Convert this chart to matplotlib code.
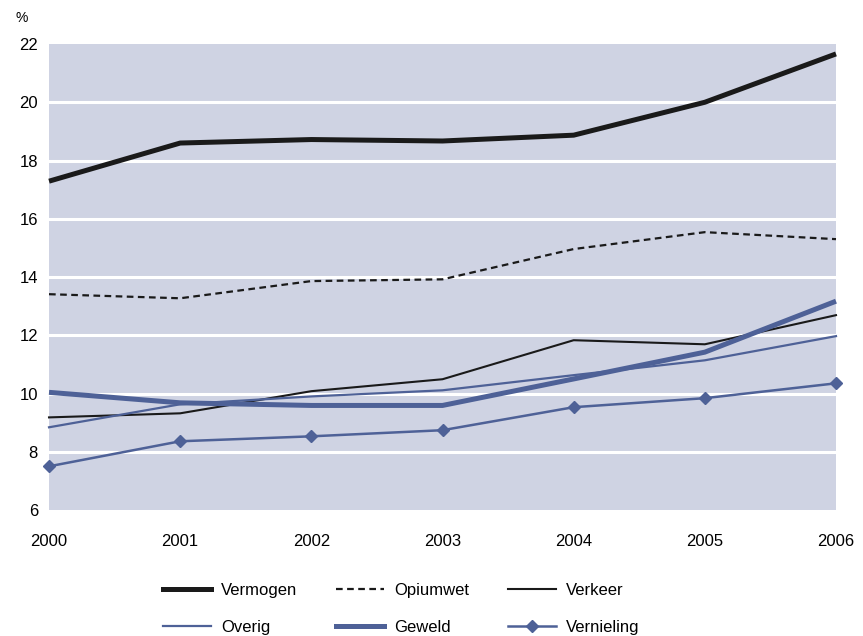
import matplotlib
matplotlib.use("Agg")
import matplotlib.pyplot as plt
from matplotlib.lines import Line2D

years = [2000, 2001, 2002, 2003, 2004, 2005, 2006]
vermogen = [17.29, 18.6, 18.72, 18.67, 18.87, 20.0, 21.66]
opiumwet = [13.41, 13.27, 13.86, 13.92, 14.96, 15.54, 15.30]
verkeer = [9.18, 9.32, 10.08, 10.49, 11.83, 11.69, 12.69]
overig = [8.84, 9.63, 9.90, 10.11, 10.63, 11.14, 11.97]
geweld = [10.04, 9.68, 9.59, 9.59, 10.50, 11.42, 13.17]
vernieling = [7.50, 8.36, 8.53, 8.74, 9.53, 9.84, 10.35]
yticks = [6, 8, 10, 12, 14, 16, 18, 20, 22]

plt.rcParams['font.family'] = ['Liberation Sans', 'DejaVu Sans']
blue = '#4E6197'
black = '#1a1a1a'

fig = plt.figure(figsize=(8.63, 6.36), dpi=100)
ax = fig.add_axes([0.0568, 0.1981, 0.9119, 0.7327])
ax.set_facecolor('#CFD3E3')
for s in ax.spines.values():
    s.set_visible(False)
ax.set_xlim(2000, 2006)
ax.set_ylim(6, 22)
for y in yticks[1:-1]:
    ax.axhline(y, color='white', lw=2.2, zorder=1)

ax.plot(years, vermogen, color=black, lw=3.6, zorder=3, solid_capstyle='butt', clip_on=False)
ax.plot(years, opiumwet, color=black, lw=1.6, ls=(0, (3, 2)), zorder=3, clip_on=False)
ax.plot(years, verkeer, color=black, lw=1.5, zorder=3, clip_on=False)
ax.plot(years, overig, color=blue, lw=1.6, zorder=3, clip_on=False)
ax.plot(years, geweld, color=blue, lw=3.6, zorder=3, solid_capstyle='butt', clip_on=False)
ax.plot(years, vernieling, color=blue, lw=1.8, marker='D', markersize=6.5, zorder=4, clip_on=False)

ax.set_xticks(years)
ax.set_xticklabels([str(y) for y in years], fontsize=12)
ax.set_yticks(yticks)
ax.set_yticklabels([str(y) for y in yticks], fontsize=12)
ax.tick_params(axis='both', length=0)
ax.tick_params(axis='x', pad=17)
ax.tick_params(axis='y', pad=8)
fig.text(0.018, 0.972, '%', fontsize=10, ha='left', va='center')

handles = [
    Line2D([], [], color=black, lw=3.6),
    Line2D([], [], color=blue, lw=1.6),
    Line2D([], [], color=black, lw=1.6, ls=(0, (3, 2))),
    Line2D([], [], color=blue, lw=3.6),
    Line2D([], [], color=black, lw=1.5),
    Line2D([], [], color=blue, lw=1.8, marker='D', markersize=6),
]
labels = ['Vermogen', 'Overig', 'Opiumwet', 'Geweld', 'Verkeer', 'Vernieling']
fig.legend(handles, labels, ncol=3, loc='lower center', bbox_to_anchor=(0.465, -0.022),
           frameon=False, fontsize=12, handlelength=2.9, columnspacing=2.3,
           handletextpad=0.6, labelspacing=1.3)

fig.savefig('out.png', dpi=100)
